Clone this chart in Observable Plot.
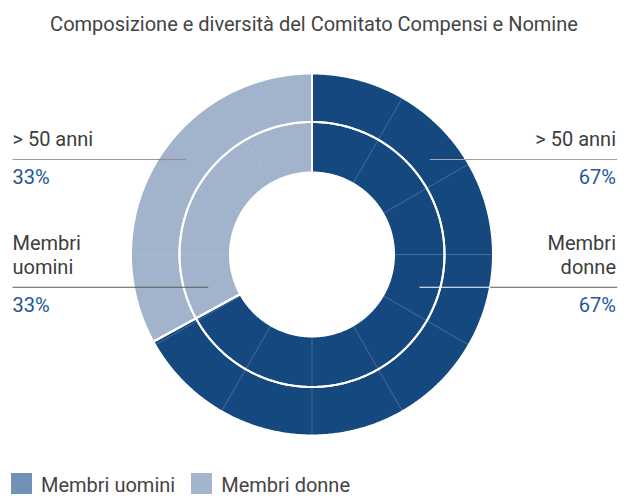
<!DOCTYPE html>
<html>
<head>
<meta charset="utf-8">
<script src="https://cdn.jsdelivr.net/npm/d3@7"></script>
<script src="https://cdn.jsdelivr.net/npm/@observablehq/plot@0.6"></script>
<style>
  body { margin: 0; background: #fff; font-family: Roboto, "Noto Sans", sans-serif; }
  #wrap { position: relative; width: 628px; height: 496px; overflow: hidden; }
  #title { position: absolute; left: 0; top: 14px; width: 628px; text-align: center; font-size: 20px; line-height: 20px; color: #444; }
  #chart { position: absolute; left: 0; top: 40px; }
  #legend { position: absolute; left: 11px; top: 473px; display: flex; align-items: flex-start; font-size: 20px; line-height: 16px; color: #444; }
  #legend .sw { width: 21px; height: 21px; margin-right: 9px; }
  #legend .lb { margin-top: 4px; margin-right: 16px; }
</style>
</head>
<body>
<div id="wrap">
  <div id="title"></div>
  <div id="chart"></div>
  <div id="legend"></div>
</div>
<script>
// ---- data ----
const title = "Composizione e diversità del Comitato Compensi e Nomine";
const outerName = "> 50 anni";
const outerValues = [67, 33];
const innerNames = ["Membri donne", "Membri uomini"];
const innerValues = [67, 33];
const sliceColors = ["#15487f", "#a1b4cb"];
const legendNames = ["Membri uomini", "Membri donne"];
const legendColors = ["#7291b7", "#a2b5cd"];

// ---- layout ----
const W = 628, H = 426;
const cx = 311.5, cy = 214, R = 181;
const rMid = 132.5 / R, rIn = 82 / R;

const rings = [
  {key: "outer", names: [outerName, outerName], wrap: false, values: outerValues, r0: rMid, r1: 1, lineY: 0.525,
   ends: [0.651, -0.695], colors: [["#a8a8a8", "#a0a0a0"], ["#8f8f8f", "#9a9a9a"]]},
  {key: "inner", names: innerNames, wrap: true, values: innerValues, r0: rIn, r1: rMid, lineY: -0.181,
   ends: [0.594, -0.573], colors: [["#ffffff", "#5a5a5a"], ["#5a5a5a", "#5a5a5a"]]}
];
const xLeft = (12 - cx) / R, xRight = (616.7 - cx) / R;

const polys = [];
const labels = [];
const leaders = [];
const boundaries = [];
rings.forEach(ring => {
  const total = d3.sum(ring.values);
  let a0 = 0;
  ring.values.forEach((v, i) => {
    const a1 = a0 + v / total * 2 * Math.PI;
    const n = Math.max(2, Math.ceil((a1 - a0) / (Math.PI / 360)));
    const id = ring.key + i;
    const pts = [];
    for (let k = 0; k <= n; k++) {
      const a = a0 + (a1 - a0) * k / n;
      pts.push({id, color: sliceColors[i], x: ring.r1 * Math.sin(a), y: ring.r1 * Math.cos(a)});
    }
    for (let k = n; k >= 0; k--) {
      const a = a0 + (a1 - a0) * k / n;
      pts.push({id, color: sliceColors[i], x: ring.r0 * Math.sin(a), y: ring.r0 * Math.cos(a)});
    }
    pts.push({...pts[0]});
    polys.push(...pts);
    boundaries.push({a: a0, r0: ring.r0, r1: ring.r1});
    // labels: first slice (clockwise from top) on the right, second on the left
    const right = i === 0;
    const xEdge = right ? xRight : xLeft;
    const inner = ring.ends[i];
    const ringEdge = (right ? 1 : -1) * Math.sqrt(1 - ring.lineY * ring.lineY);
    leaders.push({x1: inner, x2: ringEdge, y: ring.lineY, c: ring.colors[i][0]});
    leaders.push({x1: ringEdge, x2: xEdge, y: ring.lineY, c: ring.colors[i][1]});
    labels.push({
      name: ring.wrap ? ring.names[i].replace(" ", "\n") : ring.names[i],
      pct: v + "%",
      x: right ? (615.5 - cx) / R : xLeft,
      y: ring.lineY,
      right
    });
    a0 = a1;
  });
});
const gridAngles = d3.range(0, 360, 30);

const txtR = labels.filter(d => d.right);
const txtL = labels.filter(d => !d.right);
const labelMarks = [[txtR, "end"], [txtL, "start"]].flatMap(([data, anchor]) => [
  Plot.text(data, {x: "x", y: "y", text: "name", textAnchor: anchor, lineAnchor: "bottom",
    dy: -13.5, fontSize: 20, lineHeight: 1.2, fill: "#3d3d3d"}),
  Plot.text(data, {x: "x", y: "y", text: "pct", textAnchor: anchor, lineAnchor: "bottom",
    dy: 24.5, fontSize: 20, fill: "#23579a"})
]);

const plot = Plot.plot({
  width: W, height: H,
  marginLeft: cx - R, marginRight: W - (cx + R),
  marginTop: cy - R, marginBottom: H - (cy + R),
  x: {domain: [-1, 1], axis: null},
  y: {domain: [-1, 1], axis: null},
  color: {type: "identity"},
  style: {fontFamily: "Roboto, 'Noto Sans', sans-serif", background: "transparent", overflow: "visible"},
  marks: [
    Plot.line(polys, {x: "x", y: "y", z: "id", fill: "color", stroke: "none", curve: "linear"}),
    Plot.link(gridAngles, {
      x1: a => rIn * Math.sin(a * Math.PI / 180), y1: a => rIn * Math.cos(a * Math.PI / 180),
      x2: a => Math.sin(a * Math.PI / 180), y2: a => Math.cos(a * Math.PI / 180),
      stroke: "#c8ccd4", strokeOpacity: 0.4, strokeWidth: 0.7
    }),
    Plot.line(polys, {x: "x", y: "y", z: "id", fill: "none", stroke: "#ffffff", strokeWidth: 2, curve: "linear"}),
    Plot.link(boundaries, {
      x1: d => d.r0 * Math.sin(d.a), y1: d => d.r0 * Math.cos(d.a),
      x2: d => d.r1 * Math.sin(d.a), y2: d => d.r1 * Math.cos(d.a),
      stroke: "#ffffff", strokeWidth: 2
    }),
    Plot.link(leaders, {x1: "x1", x2: "x2", y1: "y", y2: "y", stroke: "c", strokeWidth: 1.2}),
    ...labelMarks
  ]
});
document.getElementById("chart").appendChild(plot);
document.getElementById("title").textContent = title;

const leg = d3.select("#legend");
legendNames.forEach((n, i) => {
  leg.append("div").attr("class", "sw").style("background", legendColors[i]);
  leg.append("div").attr("class", "lb").text(n);
});
</script>
</body>
</html>
